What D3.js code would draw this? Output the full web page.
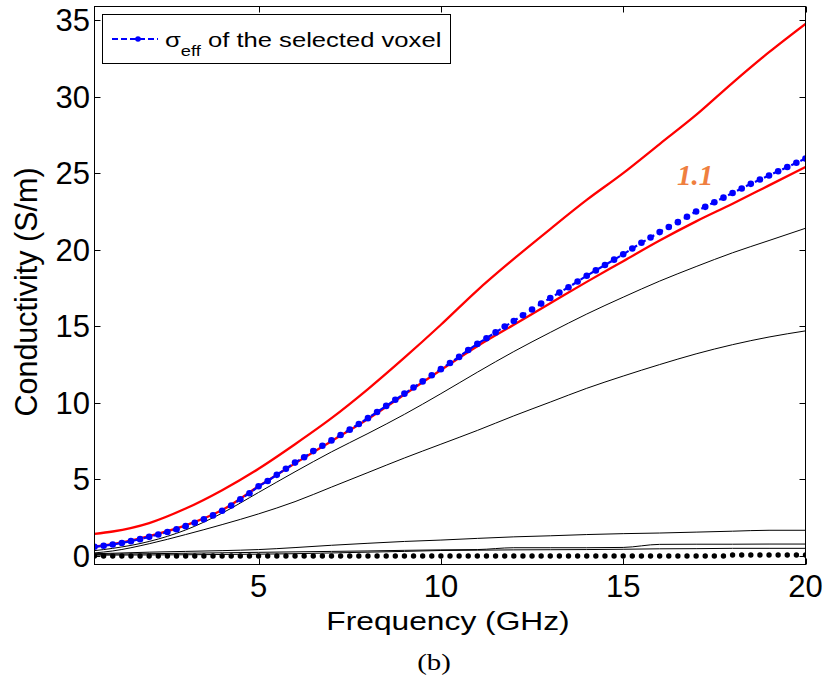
<!DOCTYPE html>
<html>
<head>
<meta charset="utf-8">
<script src="https://cdn.jsdelivr.net/npm/d3@7"></script>
<style>
  html, body { margin: 0; padding: 0; background: #fff; }
  svg { display: block; }
</style>
</head>
<body>
<div id="chart"></div>
<script>
// ---------------- DATA ----------------
const freqLines = [0.5, 1, 2, 3, 4, 5, 6, 7, 8, 9, 10, 11, 12, 13, 14, 15, 16, 17, 18, 19, 20];
const redUpper  = [1.45, 1.6, 2.15, 3.1, 4.3, 5.7, 7.3, 9.0, 10.9, 12.95, 15.1, 17.35, 19.4, 21.35, 23.25, 25.0, 26.9, 28.8, 30.9, 32.9, 34.75];
const redLower  = [0.62, 0.78, 1.3, 2.0, 3.0, 4.55, 6.05, 7.5, 8.95, 10.55, 12.15, 13.7, 15.1, 16.5, 17.9, 19.25, 20.6, 21.85, 23.0, 24.2, 25.4];
const black1    = [0.35, 0.5, 0.95, 1.7, 2.8, 4.15, 5.5, 6.8, 8.0, 9.25, 10.6, 12.0, 13.35, 14.6, 15.8, 16.9, 17.95, 18.9, 19.8, 20.6, 21.4];
const black2    = [0.2, 0.33, 0.8, 1.4, 2.05, 2.75, 3.55, 4.5, 5.45, 6.4, 7.3, 8.2, 9.15, 10.05, 10.95, 11.75, 12.5, 13.2, 13.8, 14.3, 14.7];
const blackLowA = [0.15, 0.18, 0.25, 0.3, 0.35, 0.42, 0.55, 0.7, 0.83, 0.95, 1.04, 1.15, 1.25, 1.32, 1.4, 1.46, 1.5, 1.56, 1.62, 1.68, 1.68];
const blackLowB = [0.1, 0.12, 0.15, 0.18, 0.21, 0.24, 0.27, 0.3, 0.33, 0.37, 0.4, 0.42, 0.54, 0.54, 0.54, 0.56, 0.76, 0.77, 0.77, 0.78, 0.78];
const blackLowC = [0.05, 0.06, 0.07, 0.08, 0.1, 0.12, 0.15, 0.2, 0.25, 0.3, 0.36, 0.38, 0.4, 0.41, 0.42, 0.44, 0.47, 0.48, 0.5, 0.5, 0.5];

const freqDots = [0.5, 0.75, 1, 1.25, 1.5, 1.75, 2, 2.25, 2.5, 2.75, 3, 3.25, 3.5, 3.75, 4, 4.25, 4.5, 4.75, 5, 5.25,
  5.5, 5.75, 6, 6.25, 6.5, 6.75, 7, 7.25, 7.5, 7.75, 8, 8.25, 8.5, 8.75, 9, 9.25, 9.5, 9.75, 10, 10.25,
  10.5, 10.75, 11, 11.25, 11.5, 11.75, 12, 12.25, 12.5, 12.75, 13, 13.25, 13.5, 13.75, 14, 14.25, 14.5, 14.75, 15, 15.25,
  15.5, 15.75, 16, 16.25, 16.5, 16.75, 17, 17.25, 17.5, 17.75, 18, 18.25, 18.5, 18.75, 19, 19.25, 19.5, 19.75, 20];
const sigmaEff = [0.60, 0.67, 0.75, 0.85, 0.97, 1.10, 1.25, 1.40, 1.57, 1.75, 1.95, 2.17, 2.40, 2.65, 2.95, 3.30, 3.70, 4.10, 4.55, 4.90,
  5.30, 5.70, 6.10, 6.45, 6.85, 7.20, 7.55, 7.90, 8.25, 8.62, 9.00, 9.40, 9.80, 10.20, 10.60, 11.00, 11.40, 11.80, 12.20, 12.60,
  13.00, 13.45, 13.85, 14.22, 14.60, 14.98, 15.35, 15.72, 16.10, 16.48, 16.85, 17.20, 17.55, 17.92, 18.30, 18.65, 19.00, 19.35, 19.70, 20.08,
  20.45, 20.80, 21.15, 21.48, 21.80, 22.15, 22.50, 22.80, 23.10, 23.40, 23.70, 24.00, 24.30, 24.58, 24.85, 25.12, 25.40, 25.68, 25.95];
const baseDots = [0, 0, 0, 0, 0, 0, 0, 0, 0, 0, 0, 0, 0, 0, 0, 0, 0, 0, 0, 0,
  0, 0, 0, 0, 0, 0, 0, 0, 0, 0, 0, 0, 0, 0, 0, 0, 0, 0, 0, 0,
  0, 0, 0, 0, 0, 0, 0, 0, 0, 0, 0, 0, 0, 0, 0, 0, 0, 0, 0, 0,
  0, 0, 0, 0, 0, 0, 0, 0, 0, 0, 0.07, 0.07, 0.07, 0.07, 0.07, 0.07, 0.07, 0.07, 0.07];

const xTicks = [5, 10, 15, 20];
const yTicks = [0, 5, 10, 15, 20, 25, 30, 35];
const xLabel = "Frequency (GHz)";
const yLabel = "Conductivity (S/m)";
const legendLabel = "of the selected voxel";
const annotation = "1.1";
const caption = "(b)";

// ---------------- LAYOUT ----------------
const W = 826, H = 681;
const L = 94.5, R = 805.5, T = 6.5, B = 564.5;

const svg = d3.select("#chart").append("svg").attr("width", W).attr("height", H);

const x = d3.scaleLinear().domain([0.5, 20]).range([L, R]);
const y = d3.scaleLinear().domain([0, 35]).range([556, 20]);

svg.append("defs").append("clipPath").attr("id", "clip")
  .append("rect").attr("x", L).attr("y", T).attr("width", R - L).attr("height", B - T);

const plot = svg.append("g").attr("clip-path", "url(#clip)");

const smooth = d3.line().x(d => x(d[0])).y(d => y(d[1])).curve(d3.curveMonotoneX);
const line = d3.line().x(d => x(d[0])).y(d => y(d[1]));
const zipL = arr => freqLines.map((f, i) => [f, arr[i]]);
const zipD = arr => freqDots.map((f, i) => [f, arr[i]]);

// thin black lines
[blackLowC, blackLowB, blackLowA, black2, black1].forEach(s => {
  plot.append("path").datum(zipL(s)).attr("d", smooth)
    .attr("fill", "none").attr("stroke", "#000").attr("stroke-width", 1);
});
// black dotted baseline series
plot.append("g").selectAll("circle").data(zipD(baseDots)).join("circle")
  .attr("cx", d => x(d[0])).attr("cy", d => y(d[1])).attr("r", 2.7).attr("fill", "#000");

// red lines
[redUpper, redLower].forEach(s => {
  plot.append("path").datum(zipL(s)).attr("d", smooth)
    .attr("fill", "none").attr("stroke", "#ff0000").attr("stroke-width", 2.3);
});

// blue sigma_eff
plot.append("path").datum(zipD(sigmaEff)).attr("d", line)
  .attr("fill", "none").attr("stroke", "#0000ff").attr("stroke-width", 2.2)
  .attr("stroke-dasharray", "6,4");
plot.append("g").selectAll("circle").data(zipD(sigmaEff)).join("circle")
  .attr("cx", d => x(d[0])).attr("cy", d => y(d[1])).attr("r", 3.3).attr("fill", "#0000ff");

// ---------------- AXES ----------------
const tickLen = 6;
const axisG = svg.append("g").attr("stroke", "#000").attr("stroke-width", 1);
xTicks.forEach(t => {
  const px = Math.round(x(t)) + 0.5;
  axisG.append("line").attr("x1", px).attr("x2", px).attr("y1", B).attr("y2", B - tickLen);
  axisG.append("line").attr("x1", px).attr("x2", px).attr("y1", T).attr("y2", T + tickLen);
});
yTicks.forEach(t => {
  const py = Math.round(y(t)) + 0.5;
  axisG.append("line").attr("x1", L).attr("x2", L + tickLen).attr("y1", py).attr("y2", py);
  axisG.append("line").attr("x1", R).attr("x2", R - tickLen).attr("y1", py).attr("y2", py);
});
svg.append("rect").attr("x", L).attr("y", T).attr("width", R - L).attr("height", B - T)
  .attr("fill", "none").attr("stroke", "#000").attr("stroke-width", 1);

const sans = "'Liberation Sans', Arial, Helvetica, sans-serif";
svg.append("g").selectAll("text").data(xTicks).join("text")
  .attr("x", d => x(d)).attr("y", 597)
  .attr("text-anchor", "middle").attr("font-family", sans).attr("font-size", 31).attr("fill", "#000")
  .text(d => d);
svg.append("g").selectAll("text").data(yTicks).join("text")
  .attr("x", 90).attr("y", d => y(d) + 11)
  .attr("text-anchor", "end").attr("font-family", sans).attr("font-size", 31).attr("fill", "#000")
  .text(d => d);

// axis labels (slightly horizontally stretched like the reference)
svg.append("text")
  .attr("transform", "translate(448,630) scale(1.27,1)")
  .attr("text-anchor", "middle").attr("font-family", sans).attr("font-size", 25).attr("fill", "#000")
  .text(xLabel);
svg.append("text")
  .attr("transform", "translate(37,292) rotate(-90)")
  .attr("text-anchor", "middle").attr("font-family", sans).attr("font-size", 30.5).attr("fill", "#000")
  .text(yLabel);

// caption
svg.append("text")
  .attr("transform", "translate(434,670) scale(1.2,1)")
  .attr("text-anchor", "middle").attr("font-family", "'Liberation Serif', 'Times New Roman', serif")
  .attr("font-size", 24).attr("fill", "#000")
  .text(caption);

// annotation
svg.append("text")
  .attr("x", 677).attr("y", 185)
  .attr("font-family", "'Liberation Serif', 'Times New Roman', serif")
  .attr("font-weight", "bold").attr("font-style", "italic")
  .attr("font-size", 29).attr("fill", "#ef7f3f")
  .text(annotation);

// ---------------- LEGEND ----------------
const lg = svg.append("g");
lg.append("rect").attr("x", 102.5).attr("y", 14.5).attr("width", 348).attr("height", 49)
  .attr("fill", "#fff").attr("stroke", "#000").attr("stroke-width", 1);
lg.append("line").attr("x1", 112).attr("x2", 158).attr("y1", 39).attr("y2", 39)
  .attr("stroke", "#0000ff").attr("stroke-width", 2).attr("stroke-dasharray", "6,3");
lg.append("circle").attr("cx", 138).attr("cy", 39).attr("r", 2.8).attr("fill", "#0000ff");
const lt = lg.append("text")
  .attr("transform", "translate(165,47) scale(1.22,1)")
  .attr("font-family", sans).attr("font-size", 21).attr("fill", "#000");
lt.append("tspan").text("\u03c3");
lt.append("tspan").attr("font-size", 15).attr("dy", 9).text("eff");
lt.append("tspan").attr("dy", -9).text(" " + legendLabel);
</script>
</body>
</html>
